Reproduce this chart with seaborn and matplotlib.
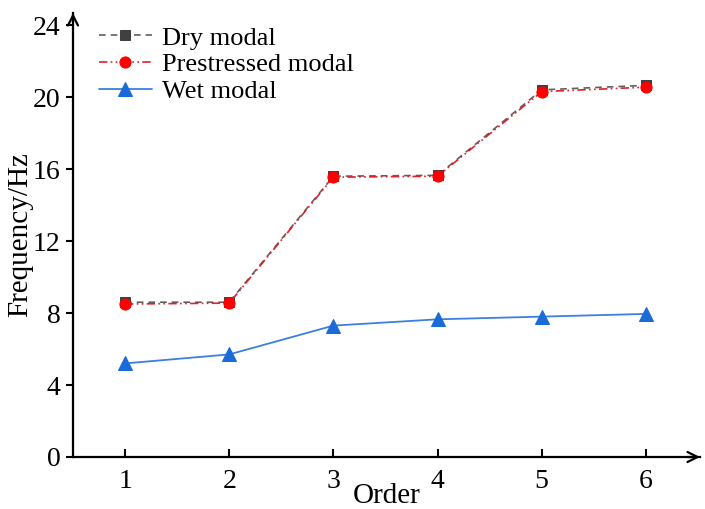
import matplotlib
matplotlib.use("Agg")
import matplotlib.pyplot as plt
import seaborn as sns
import pandas as pd

order = [1, 2, 3, 4, 5, 6]
dry_modal = [8.6, 8.6, 15.6, 15.65, 20.4, 20.65]
prestressed_modal = [8.5, 8.55, 15.55, 15.6, 20.3, 20.55]
wet_modal = [5.2, 5.7, 7.3, 7.65, 7.8, 7.95]
y_ticks = [0, 4, 8, 12, 16, 20, 24]

sns.set_style("ticks", rc={"text.color": "black", "axes.labelcolor": "black",
                           "xtick.color": "black", "ytick.color": "black",
                           "axes.edgecolor": "black"})
plt.rcParams['font.family'] = ['Liberation Serif', 'DejaVu Serif']

fig = plt.figure(figsize=(7.05, 5.09), dpi=100)
ax = fig.add_axes([73/705, 1-457/509, (700-73)/705, (457-13)/509])

df_dry = pd.DataFrame({"Order": order, "Frequency": dry_modal})
df_pre = pd.DataFrame({"Order": order, "Frequency": prestressed_modal})
df_wet = pd.DataFrame({"Order": order, "Frequency": wet_modal})

sns.lineplot(data=df_dry, x="Order", y="Frequency", ax=ax, color="#606060",
             marker="s", markersize=7.5, markerfacecolor="#404040", markeredgecolor="#404040",
             linewidth=1.2, label="Dry modal", linestyle=(0, (4, 3)))
sns.lineplot(data=df_pre, x="Order", y="Frequency", ax=ax, color="#e0202a",
             marker="o", markersize=8, markerfacecolor="#ff0000", markeredgecolor="#ff0000",
             linewidth=1.2, label="Prestressed modal", linestyle=(0, (5, 2, 1, 2, 1, 2)))
sns.lineplot(data=df_wet, x="Order", y="Frequency", ax=ax, color="#3c7fe0",
             marker="^", markersize=9.5, markerfacecolor="#1a6ad8", markeredgecolor="#1a6ad8",
             linewidth=1.3, label="Wet modal")

ax.set_xlim(0.5, 6.52)
ax.set_ylim(0, 24.67)
ax.set_xticks(order)
ax.set_yticks(y_ticks)
ax.tick_params(axis='x', direction='in', length=6, width=1.5, pad=9, labelsize=20, colors="black")
ax.tick_params(axis='y', direction='out', length=5, width=1.5, pad=4, labelsize=20, colors="black")

for s in ["top", "right"]:
    ax.spines[s].set_visible(False)
for s in ["left", "bottom"]:
    ax.spines[s].set_linewidth(1.6)
    ax.spines[s].set_color("black")

ax.annotate("", xy=(1.0, 0), xytext=(0.98, 0), xycoords='axes fraction',
            arrowprops=dict(arrowstyle="->", lw=1.6, color="black", mutation_scale=18,
                            shrinkA=0, shrinkB=0))
ax.annotate("", xy=(0, 1.0), xytext=(0, 0.98), xycoords='axes fraction',
            arrowprops=dict(arrowstyle="->", lw=1.6, color="black", mutation_scale=18,
                            shrinkA=0, shrinkB=0))

ax.set_xlabel("Order", fontsize=21, labelpad=-8, color="black")
ax.set_ylabel("Frequency/Hz", fontsize=21, labelpad=0, color="black")

leg = ax.legend(loc="upper left", bbox_to_anchor=(0.02, 1.0), frameon=False,
                fontsize=19, handlelength=2.0, handletextpad=0.4, labelspacing=0.12,
                borderaxespad=0.1)
for t in leg.get_texts():
    t.set_color("black")

fig.savefig("out.png", dpi=100)
